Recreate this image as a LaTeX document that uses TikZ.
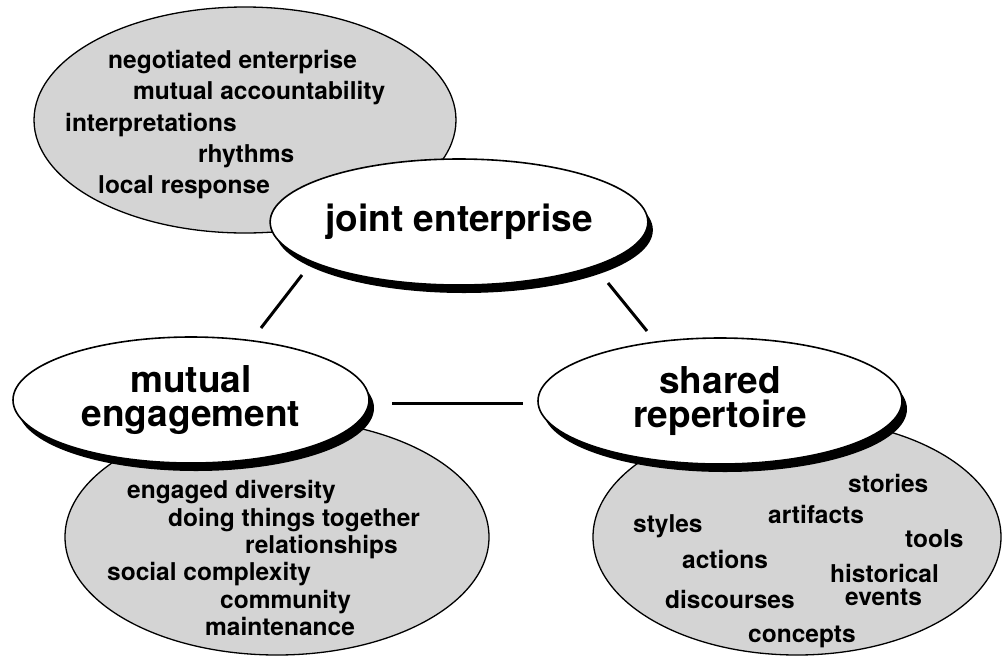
\documentclass[tikz,border=0pt]{standalone}
\usepackage{fontspec}
\setsansfont{TeX Gyre Heros}
\usetikzlibrary{shapes.geometric,shadows}
\tikzset{
  cloudshape/.style={ellipse, draw=black, line width=1.3pt, fill=black!17, inner sep=0pt},
  mainnode/.style={ellipse, draw=black, line width=1.6pt, fill=white, inner sep=0pt, align=center,
    font=\sffamily\bfseries\fontsize{37}{34}\selectfont,
    drop shadow={shadow xshift=5pt, shadow yshift=-8pt, fill=black, opacity=1}},
  item/.style={anchor=base west, inner sep=0pt, font=\sffamily\bfseries\fontsize{24.5}{24}\selectfont},
  conn/.style={line width=3pt},
}
\begin{document}
\begin{tikzpicture}[x=1pt,y=-1pt]
\useasboundingbox (0,0) rectangle (1004,657);
% background clouds
\node[cloudshape, minimum width=422pt, minimum height=226pt] (jecloud) at (245,120) {};
\node[cloudshape, minimum width=424pt, minimum height=236pt] (mecloud) at (277,537) {};
\node[cloudshape, minimum width=408pt, minimum height=236pt] (srcloud) at (797,537) {};
% items of joint enterprise
\node[item] (je1) at (108,68) {negotiated enterprise};
\node[item] (je2) at (133,99) {mutual accountability};
\node[item] (je3) at (65,131) {interpretations};
\node[item] (je4) at (198,162) {rhythms};
\node[item] (je5) at (98,193) {local response};
% items of mutual engagement
\node[item] (me1) at (127,498) {engaged diversity};
\node[item] (me2) at (168,526) {doing things together};
\node[item] (me3) at (245,553) {relationships};
\node[item] (me4) at (107,580) {social complexity};
\node[item] (me5) at (220,608) {community};
\node[item] (me6) at (205,635) {maintenance};
% items of shared repertoire
\node[item] (sr1) at (848,492) {stories};
\node[item] (sr2) at (768,523) {artifacts};
\node[item] (sr3) at (633,532) {styles};
\node[item] (sr4) at (905,547) {tools};
\node[item] (sr5) at (682,568) {actions};
\node[item] (sr6) at (830,582) {historical};
\node[item] (sr7) at (845,605) {events};
\node[item] (sr8) at (665,608) {discourses};
\node[item] (sr9) at (748,642) {concepts};
% main ellipses
\node[mainnode, minimum width=356pt, minimum height=126pt] (je) at (459,222) {joint enterprise};
\node[mainnode, minimum width=356pt, minimum height=126pt] (me) at (191,400) {mutual\\engagement};
\node[mainnode, minimum width=364pt, minimum height=126pt] (sr) at (720,401) {shared\\repertoire};
% connectors
\coordinate (jeA) at (302,275);
\coordinate (meA) at (261,328);
\coordinate (jeB) at (608,283);
\coordinate (srB) at (647,331);
\coordinate (meC) at (392,403);
\coordinate (srC) at (523,403);
\draw[conn] (jeA) -- (meA);
\draw[conn] (jeB) -- (srB);
\draw[conn] (meC) -- (srC);
\end{tikzpicture}
\end{document}
